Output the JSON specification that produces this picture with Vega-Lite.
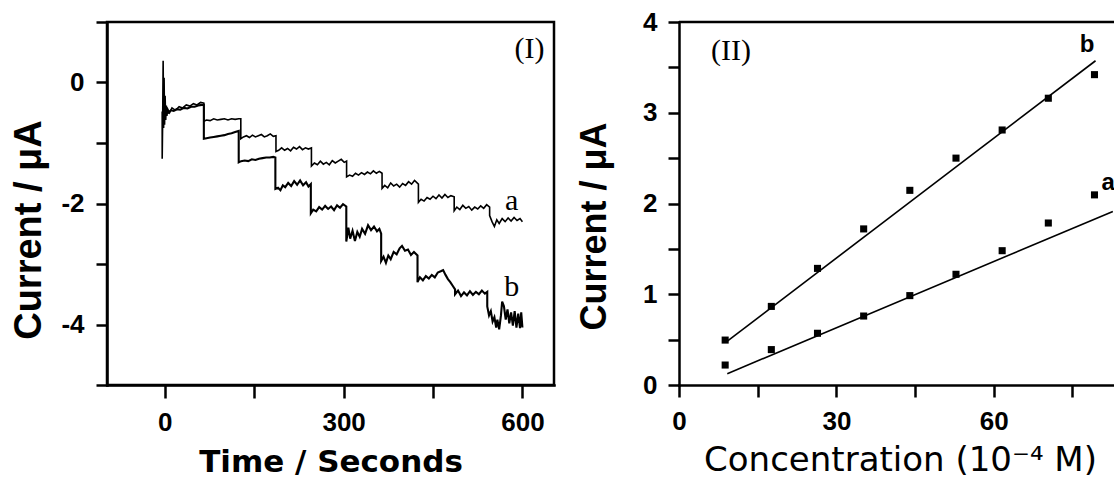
{
"$schema": "https://vega.github.io/schema/vega-lite/v6.json",
"padding": {"left": 8, "top": 7, "right": 0, "bottom": 0},
"background": "white",
"bounds": "flush",
"spacing": 125,
"config": {
  "view": {"stroke": null},
  "axis": {"grid": false, "domainColor": "black", "domainWidth": 2.5, "domainCap": "square", "tickColor": "black", "tickWidth": 2.5, "labelColor": "black", "labelFont": "Liberation Sans", "labelFontWeight": "bold", "labelFontSize": 26, "titleColor": "black", "titleFont": "Liberation Sans", "titleFontWeight": "bold", "labelFlush": false, "labelOverlap": false}
},
"datasets": {
  "trace": [
{"s":"a","i":0,"t":-4.4,"y":-0.48},{"s":"a","i":1,"t":-4.4,"y":-1.26},{"s":"a","i":2,"t":-3.6,"y":-0.62},{"s":"a","i":3,"t":-2.8,"y":0.36},{"s":"a","i":4,"t":-2,"y":-0.75},{"s":"a","i":5,"t":-1.2,"y":0.08},{"s":"a","i":6,"t":-0.4,"y":-0.7},{"s":"a","i":7,"t":0.5,"y":-0.22},{"s":"a","i":8,"t":1.5,"y":-0.62},{"s":"a","i":9,"t":2.5,"y":-0.38},{"s":"a","i":10,"t":3.5,"y":-0.55},{"s":"a","i":11,"t":5,"y":-0.44},{"s":"a","i":12,"t":8,"y":-0.5},{"s":"a","i":13,"t":12,"y":-0.42},{"s":"a","i":14,"t":18,"y":-0.46},{"s":"a","i":15,"t":24,"y":-0.4},{"s":"a","i":16,"t":30,"y":-0.42},{"s":"a","i":17,"t":36,"y":-0.37},{"s":"a","i":18,"t":42,"y":-0.39},{"s":"a","i":19,"t":48,"y":-0.35},{"s":"a","i":20,"t":54,"y":-0.37},{"s":"a","i":21,"t":60,"y":-0.33},{"s":"a","i":22,"t":65.5,"y":-0.34},
{"s":"a","i":23,"t":65.5,"y":-0.64},{"s":"a","i":24,"t":70,"y":-0.62},{"s":"a","i":25,"t":76,"y":-0.63},{"s":"a","i":26,"t":82,"y":-0.6},{"s":"a","i":27,"t":88,"y":-0.62},{"s":"a","i":28,"t":94,"y":-0.61},{"s":"a","i":29,"t":100,"y":-0.6},{"s":"a","i":30,"t":106,"y":-0.62},{"s":"a","i":31,"t":112,"y":-0.6},{"s":"a","i":32,"t":118,"y":-0.61},{"s":"a","i":33,"t":124,"y":-0.6},{"s":"a","i":34,"t":127.5,"y":-0.6},
{"s":"a","i":35,"t":127.5,"y":-0.93},{"s":"a","i":36,"t":132,"y":-0.9},{"s":"a","i":37,"t":137,"y":-0.88},{"s":"a","i":38,"t":142,"y":-0.91},{"s":"a","i":39,"t":147,"y":-0.87},{"s":"a","i":40,"t":152,"y":-0.9},{"s":"a","i":41,"t":157,"y":-0.88},{"s":"a","i":42,"t":162,"y":-0.86},{"s":"a","i":43,"t":167,"y":-0.9},{"s":"a","i":44,"t":172,"y":-0.88},{"s":"a","i":45,"t":177,"y":-0.85},{"s":"a","i":46,"t":182,"y":-0.89},{"s":"a","i":47,"t":186.5,"y":-0.88},
{"s":"a","i":48,"t":186.5,"y":-1.14},{"s":"a","i":49,"t":191,"y":-1.12},{"s":"a","i":50,"t":196,"y":-1.08},{"s":"a","i":51,"t":201,"y":-1.12},{"s":"a","i":52,"t":206,"y":-1.09},{"s":"a","i":53,"t":211,"y":-1.13},{"s":"a","i":54,"t":216,"y":-1.07},{"s":"a","i":55,"t":221,"y":-1.1},{"s":"a","i":56,"t":226,"y":-1.06},{"s":"a","i":57,"t":231,"y":-1.11},{"s":"a","i":58,"t":236,"y":-1.08},{"s":"a","i":59,"t":241,"y":-1.1},{"s":"a","i":60,"t":246,"y":-1.08},
{"s":"a","i":61,"t":246,"y":-1.38},{"s":"a","i":62,"t":251,"y":-1.33},{"s":"a","i":63,"t":256,"y":-1.36},{"s":"a","i":64,"t":261,"y":-1.3},{"s":"a","i":65,"t":266,"y":-1.35},{"s":"a","i":66,"t":271,"y":-1.32},{"s":"a","i":67,"t":276,"y":-1.36},{"s":"a","i":68,"t":281,"y":-1.29},{"s":"a","i":69,"t":286,"y":-1.33},{"s":"a","i":70,"t":291,"y":-1.3},{"s":"a","i":71,"t":296,"y":-1.27},{"s":"a","i":72,"t":301,"y":-1.32},{"s":"a","i":73,"t":305,"y":-1.3},
{"s":"a","i":74,"t":305,"y":-1.56},{"s":"a","i":75,"t":310,"y":-1.53},{"s":"a","i":76,"t":315,"y":-1.55},{"s":"a","i":77,"t":320,"y":-1.5},{"s":"a","i":78,"t":325,"y":-1.53},{"s":"a","i":79,"t":330,"y":-1.49},{"s":"a","i":80,"t":335,"y":-1.52},{"s":"a","i":81,"t":340,"y":-1.48},{"s":"a","i":82,"t":345,"y":-1.51},{"s":"a","i":83,"t":350,"y":-1.46},{"s":"a","i":84,"t":355,"y":-1.5},{"s":"a","i":85,"t":360,"y":-1.47},{"s":"a","i":86,"t":364.5,"y":-1.5},
{"s":"a","i":87,"t":364.5,"y":-1.75},{"s":"a","i":88,"t":369,"y":-1.7},{"s":"a","i":89,"t":374,"y":-1.74},{"s":"a","i":90,"t":379,"y":-1.66},{"s":"a","i":91,"t":384,"y":-1.71},{"s":"a","i":92,"t":389,"y":-1.68},{"s":"a","i":93,"t":394,"y":-1.73},{"s":"a","i":94,"t":399,"y":-1.67},{"s":"a","i":95,"t":404,"y":-1.7},{"s":"a","i":96,"t":409,"y":-1.64},{"s":"a","i":97,"t":414,"y":-1.68},{"s":"a","i":98,"t":419,"y":-1.62},{"s":"a","i":99,"t":425.5,"y":-1.68},
{"s":"a","i":100,"t":425.5,"y":-1.98},{"s":"a","i":101,"t":430,"y":-1.93},{"s":"a","i":102,"t":435,"y":-1.96},{"s":"a","i":103,"t":440,"y":-1.9},{"s":"a","i":104,"t":445,"y":-1.93},{"s":"a","i":105,"t":450,"y":-1.88},{"s":"a","i":106,"t":455,"y":-1.92},{"s":"a","i":107,"t":460,"y":-1.86},{"s":"a","i":108,"t":465,"y":-1.91},{"s":"a","i":109,"t":470,"y":-1.85},{"s":"a","i":110,"t":475,"y":-1.9},{"s":"a","i":111,"t":480,"y":-1.87},{"s":"a","i":112,"t":485.5,"y":-1.89},
{"s":"a","i":113,"t":485.5,"y":-2.12},{"s":"a","i":114,"t":490,"y":-2.06},{"s":"a","i":115,"t":495,"y":-2.1},{"s":"a","i":116,"t":500,"y":-2.03},{"s":"a","i":117,"t":505,"y":-2.08},{"s":"a","i":118,"t":510,"y":-2.05},{"s":"a","i":119,"t":515,"y":-2.11},{"s":"a","i":120,"t":520,"y":-2.06},{"s":"a","i":121,"t":525,"y":-2.09},{"s":"a","i":122,"t":530,"y":-2.04},{"s":"a","i":123,"t":535,"y":-2.08},{"s":"a","i":124,"t":540,"y":-2.02},{"s":"a","i":125,"t":545,"y":-2.06},
{"s":"a","i":126,"t":545,"y":-2.2},{"s":"a","i":127,"t":549,"y":-2.3},{"s":"a","i":128,"t":553,"y":-2.38},{"s":"a","i":129,"t":557,"y":-2.27},{"s":"a","i":130,"t":561,"y":-2.33},{"s":"a","i":131,"t":566,"y":-2.25},{"s":"a","i":132,"t":571,"y":-2.3},{"s":"a","i":133,"t":576,"y":-2.24},{"s":"a","i":134,"t":581,"y":-2.29},{"s":"a","i":135,"t":586,"y":-2.23},{"s":"a","i":136,"t":591,"y":-2.28},{"s":"a","i":137,"t":596,"y":-2.25},{"s":"a","i":138,"t":600,"y":-2.3},
{"s":"b","i":0,"t":0.5,"y":-0.55},{"s":"b","i":1,"t":3,"y":-0.48},{"s":"b","i":2,"t":6,"y":-0.5},{"s":"b","i":3,"t":10,"y":-0.46},{"s":"b","i":4,"t":15,"y":-0.47},{"s":"b","i":5,"t":20,"y":-0.44},{"s":"b","i":6,"t":26,"y":-0.45},{"s":"b","i":7,"t":32,"y":-0.42},{"s":"b","i":8,"t":38,"y":-0.43},{"s":"b","i":9,"t":44,"y":-0.4},{"s":"b","i":10,"t":50,"y":-0.4},{"s":"b","i":11,"t":56,"y":-0.38},{"s":"b","i":12,"t":62,"y":-0.37},{"s":"b","i":13,"t":65.5,"y":-0.37},
{"s":"b","i":14,"t":65.5,"y":-0.93},{"s":"b","i":15,"t":70,"y":-0.92},{"s":"b","i":16,"t":76,"y":-0.91},{"s":"b","i":17,"t":82,"y":-0.9},{"s":"b","i":18,"t":88,"y":-0.89},{"s":"b","i":19,"t":94,"y":-0.88},{"s":"b","i":20,"t":100,"y":-0.87},{"s":"b","i":21,"t":106,"y":-0.85},{"s":"b","i":22,"t":112,"y":-0.84},{"s":"b","i":23,"t":118,"y":-0.82},{"s":"b","i":24,"t":124,"y":-0.8},
{"s":"b","i":25,"t":124,"y":-1.32},{"s":"b","i":26,"t":128,"y":-1.3},{"s":"b","i":27,"t":134,"y":-1.29},{"s":"b","i":28,"t":140,"y":-1.3},{"s":"b","i":29,"t":146,"y":-1.27},{"s":"b","i":30,"t":152,"y":-1.28},{"s":"b","i":31,"t":158,"y":-1.26},{"s":"b","i":32,"t":164,"y":-1.25},{"s":"b","i":33,"t":170,"y":-1.24},{"s":"b","i":34,"t":176,"y":-1.24},{"s":"b","i":35,"t":182,"y":-1.23},{"s":"b","i":36,"t":185.5,"y":-1.24},
{"s":"b","i":37,"t":185.5,"y":-1.76},{"s":"b","i":38,"t":190,"y":-1.74},{"s":"b","i":39,"t":194,"y":-1.78},{"s":"b","i":40,"t":198,"y":-1.7},{"s":"b","i":41,"t":202,"y":-1.73},{"s":"b","i":42,"t":207,"y":-1.66},{"s":"b","i":43,"t":212,"y":-1.71},{"s":"b","i":44,"t":217,"y":-1.63},{"s":"b","i":45,"t":222,"y":-1.69},{"s":"b","i":46,"t":227,"y":-1.62},{"s":"b","i":47,"t":232,"y":-1.7},{"s":"b","i":48,"t":237,"y":-1.65},{"s":"b","i":49,"t":241,"y":-1.72},{"s":"b","i":50,"t":245,"y":-1.68},
{"s":"b","i":51,"t":245,"y":-2.16},{"s":"b","i":52,"t":249,"y":-2.1},{"s":"b","i":53,"t":254,"y":-2.13},{"s":"b","i":54,"t":259,"y":-2.06},{"s":"b","i":55,"t":264,"y":-2.1},{"s":"b","i":56,"t":269,"y":-2.04},{"s":"b","i":57,"t":274,"y":-2.09},{"s":"b","i":58,"t":279,"y":-2.05},{"s":"b","i":59,"t":284,"y":-2.11},{"s":"b","i":60,"t":289,"y":-2.03},{"s":"b","i":61,"t":294,"y":-2.07},{"s":"b","i":62,"t":299,"y":-2.01},{"s":"b","i":63,"t":304.5,"y":-2.05},
{"s":"b","i":64,"t":304.5,"y":-2.63},{"s":"b","i":65,"t":308,"y":-2.4},{"s":"b","i":66,"t":311,"y":-2.58},{"s":"b","i":67,"t":315,"y":-2.45},{"s":"b","i":68,"t":319,"y":-2.62},{"s":"b","i":69,"t":323,"y":-2.47},{"s":"b","i":70,"t":327,"y":-2.55},{"s":"b","i":71,"t":331,"y":-2.42},{"s":"b","i":72,"t":336,"y":-2.5},{"s":"b","i":73,"t":341,"y":-2.36},{"s":"b","i":74,"t":346,"y":-2.44},{"s":"b","i":75,"t":351,"y":-2.38},{"s":"b","i":76,"t":356,"y":-2.46},{"s":"b","i":77,"t":360,"y":-2.42},{"s":"b","i":78,"t":363,"y":-2.5},
{"s":"b","i":79,"t":363,"y":-2.95},{"s":"b","i":80,"t":367,"y":-2.88},{"s":"b","i":81,"t":371,"y":-2.98},{"s":"b","i":82,"t":375,"y":-2.86},{"s":"b","i":83,"t":379,"y":-2.92},{"s":"b","i":84,"t":384,"y":-2.8},{"s":"b","i":85,"t":389,"y":-2.84},{"s":"b","i":86,"t":394,"y":-2.74},{"s":"b","i":87,"t":398,"y":-2.7},{"s":"b","i":88,"t":403,"y":-2.78},{"s":"b","i":89,"t":408,"y":-2.76},{"s":"b","i":90,"t":413,"y":-2.85},{"s":"b","i":91,"t":418,"y":-2.8},{"s":"b","i":92,"t":424,"y":-2.86},
{"s":"b","i":93,"t":424,"y":-3.3},{"s":"b","i":94,"t":428,"y":-3.22},{"s":"b","i":95,"t":433,"y":-3.27},{"s":"b","i":96,"t":438,"y":-3.2},{"s":"b","i":97,"t":443,"y":-3.24},{"s":"b","i":98,"t":448,"y":-3.18},{"s":"b","i":99,"t":453,"y":-3.22},{"s":"b","i":100,"t":458,"y":-3.14},{"s":"b","i":101,"t":463,"y":-3.12},{"s":"b","i":102,"t":467,"y":-3.1},{"s":"b","i":103,"t":471,"y":-3.18},{"s":"b","i":104,"t":475,"y":-3.25},{"s":"b","i":105,"t":479,"y":-3.3},{"s":"b","i":106,"t":483,"y":-3.36},{"s":"b","i":107,"t":487,"y":-3.42},
{"s":"b","i":108,"t":487,"y":-3.5},{"s":"b","i":109,"t":492,"y":-3.44},{"s":"b","i":110,"t":497,"y":-3.53},{"s":"b","i":111,"t":502,"y":-3.47},{"s":"b","i":112,"t":507,"y":-3.52},{"s":"b","i":113,"t":512,"y":-3.45},{"s":"b","i":114,"t":517,"y":-3.51},{"s":"b","i":115,"t":522,"y":-3.46},{"s":"b","i":116,"t":527,"y":-3.5},{"s":"b","i":117,"t":532,"y":-3.44},{"s":"b","i":118,"t":537,"y":-3.49},{"s":"b","i":119,"t":541,"y":-3.46},
{"s":"b","i":120,"t":541,"y":-3.7},{"s":"b","i":121,"t":544,"y":-3.85},{"s":"b","i":122,"t":547,"y":-3.78},{"s":"b","i":123,"t":550,"y":-3.95},{"s":"b","i":124,"t":553,"y":-3.88},{"s":"b","i":125,"t":556,"y":-4.05},{"s":"b","i":126,"t":558,"y":-3.92},{"s":"b","i":127,"t":561,"y":-4.08},{"s":"b","i":128,"t":564,"y":-3.85},{"s":"b","i":129,"t":566,"y":-3.62},{"s":"b","i":130,"t":569,"y":-3.7},{"s":"b","i":131,"t":572,"y":-3.92},{"s":"b","i":132,"t":575,"y":-3.75},{"s":"b","i":133,"t":578,"y":-3.98},{"s":"b","i":134,"t":581,"y":-3.8},{"s":"b","i":135,"t":584,"y":-4.02},{"s":"b","i":136,"t":587,"y":-3.78},{"s":"b","i":137,"t":590,"y":-4.05},{"s":"b","i":138,"t":593,"y":-3.82},{"s":"b","i":139,"t":596,"y":-4.06},{"s":"b","i":140,"t":598,"y":-3.8},{"s":"b","i":141,"t":600,"y":-4.05}
  ],
  "labels1": [
    {"label": "(I)", "x": 611.7, "y": 0.4},
    {"label": "a", "x": 582, "y": -2.107},
    {"label": "b", "x": 582, "y": -3.524}
  ],
  "pts": [
    {"s":"a","c":8.8,"cur":0.22},{"s":"a","c":17.6,"cur":0.39},{"s":"a","c":26.4,"cur":0.57},{"s":"a","c":35.2,"cur":0.76},{"s":"a","c":44.0,"cur":0.985},{"s":"a","c":52.8,"cur":1.22},{"s":"a","c":61.6,"cur":1.48},{"s":"a","c":70.4,"cur":1.785},{"s":"a","c":79.2,"cur":2.095},
    {"s":"b","c":8.8,"cur":0.495},{"s":"b","c":17.6,"cur":0.866},{"s":"b","c":26.4,"cur":1.285},{"s":"b","c":35.2,"cur":1.72},{"s":"b","c":44.0,"cur":2.145},{"s":"b","c":52.8,"cur":2.5},{"s":"b","c":61.6,"cur":2.81},{"s":"b","c":70.4,"cur":3.16},{"s":"b","c":79.2,"cur":3.42}
  ],
  "fit": [
    {"s":"a","c":9.2,"cur":0.125},{"s":"a","c":82.7,"cur":1.913},
    {"s":"b","c":8.9,"cur":0.47},{"s":"b","c":79.4,"cur":3.573}
  ],
  "labels2": [
    {"label": "(II)", "c": 9.9, "cur": 3.586}
  ],
  "labels2b": [
    {"label": "b", "c": 77.8, "cur": 3.669},
    {"label": "a", "c": 81.8, "cur": 2.145}
  ]
},
"hconcat": [
  {
    "width": 447,
    "height": 363,
    "view": {"stroke": "black", "strokeWidth": 2.5},
    "layer": [
      {
        "data": {"name": "trace"},
        "mark": {"type": "line", "color": "black"},
        "encoding": {
          "x": {"field": "t", "type": "quantitative", "scale": {"domain": [-97, 653], "nice": false, "zero": false},
            "axis": {"title": "Time / Seconds", "values": [0, 150, 300, 450, 600],
              "labelExpr": "datum.value % 300 === 0 ? '' + datum.value : ''",
              "tickSize": 13,
              "encode": {"ticks": {"update": {"y2": {"signal": "datum.value % 300 === 0 ? 13 : 7"}}}},
              "labelPadding": 11, "titleFont": "DejaVu Sans", "titleFontSize": 31, "titleFontWeight": "bold",
              "titleY": 86, "titleBaseline": "alphabetic"}},
          "y": {"field": "y", "type": "quantitative", "scale": {"domain": [-5, 1], "nice": false, "zero": false},
            "axis": {"title": "Current / μA", "values": [-5, -4, -3, -2, -1, 0, 1],
              "labelExpr": "datum.value % 2 === 0 ? '' + datum.value : ''",
              "tickSize": 11,
              "encode": {"ticks": {"update": {"x2": {"signal": "datum.value % 2 === 0 ? -11 : -6"}}}},
              "labelPadding": 12, "titleFontSize": 38, "titleAngle": 270, "titleX": -67, "titleY": 207.5,
              "titleAlign": "center", "titleBaseline": "alphabetic"}},
          "detail": {"field": "s"},
          "order": {"field": "i", "type": "quantitative"},
          "strokeWidth": {"field": "s", "type": "nominal", "scale": {"domain": ["a", "b"], "range": [1.6, 2.1]}, "legend": null}
        }
      },
      {
        "data": {"name": "labels1"},
        "mark": {"type": "text", "font": "Liberation Serif", "fontSize": 30, "color": "black", "align": "center", "baseline": "alphabetic"},
        "encoding": {
          "x": {"field": "x", "type": "quantitative"},
          "y": {"field": "y", "type": "quantitative"},
          "text": {"field": "label"}
        }
      }
    ]
  },
  {
    "width": 437,
    "height": 363,
    "view": {"stroke": null},
    "layer": [
      {
        "data": {"name": "fit"},
        "mark": {"type": "line", "color": "black", "strokeWidth": 1.6},
        "encoding": {
          "x": {"field": "c", "type": "quantitative", "scale": {"domain": [0, 83.3], "nice": false, "zero": false},
            "axis": {"title": "Concentration (10⁻⁴ M)", "values": [0, 15, 30, 45, 60, 75],
              "labelExpr": "datum.value % 30 === 0 ? '' + datum.value : ''",
              "tickSize": 12,
              "encode": {"ticks": {"update": {"y2": {"signal": "datum.value % 30 === 0 ? 12 : 7"}}}},
              "labelPadding": 11, "titleFont": "DejaVu Sans", "titleFontSize": 34, "titleFontWeight": "normal",
              "titleX": 221, "titleY": 85, "titleAlign": "center", "titleBaseline": "alphabetic"}},
          "y": {"field": "cur", "type": "quantitative", "scale": {"domain": [0, 4], "nice": false, "zero": false},
            "axis": {"title": "Current / μA", "values": [0, 0.5, 1, 1.5, 2, 2.5, 3, 3.5, 4],
              "labelExpr": "datum.value % 1 === 0 ? '' + datum.value : ''",
              "tickSize": 11,
              "encode": {"ticks": {"update": {"x2": {"signal": "datum.value % 1 === 0 ? -11 : -6"}}}},
              "labelPadding": 11, "titleFontSize": 36, "titleAngle": 270, "titleX": -74, "titleY": 204,
              "titleAlign": "center", "titleBaseline": "alphabetic"}},
          "detail": {"field": "s"}
        }
      },
      {
        "data": {"name": "pts"},
        "mark": {"type": "point", "shape": "square", "filled": true, "size": 50, "color": "black", "opacity": 1},
        "encoding": {
          "x": {"field": "c", "type": "quantitative"},
          "y": {"field": "cur", "type": "quantitative"}
        }
      },
      {
        "data": {"name": "labels2"},
        "mark": {"type": "text", "font": "Liberation Serif", "fontSize": 30, "color": "black", "align": "center", "baseline": "alphabetic"},
        "encoding": {
          "x": {"field": "c", "type": "quantitative"},
          "y": {"field": "cur", "type": "quantitative"},
          "text": {"field": "label"}
        }
      },
      {
        "data": {"name": "labels2b"},
        "mark": {"type": "text", "font": "Liberation Sans", "fontWeight": "bold", "fontSize": 24, "color": "black", "align": "center", "baseline": "alphabetic"},
        "encoding": {
          "x": {"field": "c", "type": "quantitative"},
          "y": {"field": "cur", "type": "quantitative"},
          "text": {"field": "label"}
        }
      },
      {
        "data": {"values": [{}]},
        "mark": {"type": "rule", "color": "black", "strokeWidth": 2.5},
        "encoding": {"y": {"datum": 4}}
      }
    ]
  }
]
}
